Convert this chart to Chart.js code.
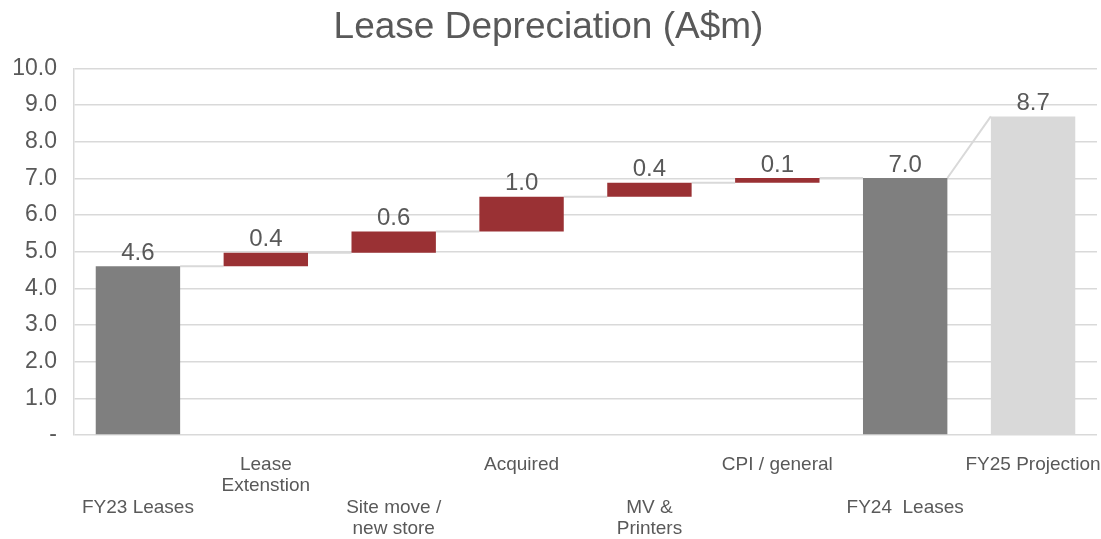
<!DOCTYPE html>
<html lang="en">
<head>
    <meta charset="UTF-8">
    <title>Lease Depreciation</title>
    <style>
        html, body { margin: 0; padding: 0; background: #fff; }
        #wrap { width: 1101px; height: 539px; }
    </style>
</head>
<body>
    <div id="wrap"><canvas id="leaseChart"></canvas></div>

    <script src="https://cdn.jsdelivr.net/npm/chart.js"></script>
<script>
// Categories (staggered: even ones pushed down two lines like the original)
const categories = [
    ['', '', 'FY23 Leases'],
    ['Lease', 'Extenstion'],
    ['', '', 'Site move /', 'new store'],
    ['Acquired'],
    ['', '', 'MV &', 'Printers'],
    ['CPI / general'],
    ['', '', 'FY24  Leases'],
    ['FY25 Projection']
];
// 'total' bars start at zero, 'step' bars float on the running total
const barKind = ['total', 'step', 'step', 'step', 'step', 'step', 'total', 'projection'];
const barValues = [4.60, 0.37, 0.58, 0.95, 0.38, 0.13, 7.01, 8.69];
const valueLabels = ['4.6', '0.4', '0.6', '1.0', '0.4', '0.1', '7.0', '8.7'];
const yTicks = [0, 1, 2, 3, 4, 5, 6, 7, 8, 9, 10];

const kindColors = { total: '#7f7f7f', step: '#9a3134', projection: '#d9d9d9' };
const textColor = '#595959';
const fontFamily = '"Liberation Sans", Arial, sans-serif';

// build floating ranges
let running = 0;
const ranges = barValues.map((v, i) => {
    if (barKind[i] === 'step') {
        const r = [running, running + v];
        running += v;
        return r;
    }
    running = v;
    return [0, v];
});

// connector lines + value labels drawn from the bar elements
const waterfallExtras = {
    id: 'waterfallExtras',
    beforeDatasetsDraw(chart) {
        const ctx = chart.ctx;
        const meta = chart.getDatasetMeta(0);
        const y = chart.scales.y;
        ctx.save();
        ctx.strokeStyle = '#d9d9d9';
        ctx.lineWidth = 2;
        for (let i = 0; i < meta.data.length - 1; i++) {
            const a = meta.data[i], b = meta.data[i + 1];
            const x1 = a.x + a.width / 2;
            const x2 = b.x - b.width / 2;
            const y1 = y.getPixelForValue(ranges[i][1]);
            // last one goes diagonally up to the projection top
            const y2 = barKind[i + 1] === 'projection' ? y.getPixelForValue(ranges[i + 1][1]) : y1;
            ctx.beginPath();
            ctx.moveTo(x1, y1);
            ctx.lineTo(x2, y2);
            ctx.stroke();
        }
        ctx.restore();
    },
    afterDatasetsDraw(chart) {
        const ctx = chart.ctx;
        const meta = chart.getDatasetMeta(0);
        const y = chart.scales.y;
        ctx.save();
        ctx.fillStyle = textColor;
        ctx.font = '24px ' + fontFamily;
        ctx.textAlign = 'center';
        ctx.textBaseline = 'bottom';
        meta.data.forEach((bar, i) => {
            ctx.fillText(valueLabels[i], bar.x, y.getPixelForValue(ranges[i][1]) - 1);
        });
        ctx.restore();
    }
};

const ctx = document.getElementById('leaseChart').getContext('2d');
const leaseChart = new Chart(ctx, {
    type: 'bar',
    data: {
        labels: categories,
        datasets: [{
            data: ranges,
            backgroundColor: barKind.map(k => kindColors[k]),
            borderWidth: 0,
            barPercentage: 0.66,
            categoryPercentage: 1.0
        }]
    },
    options: {
        responsive: true,
        maintainAspectRatio: false,
        animation: false,
        layout: { padding: { left: 0, right: 4, top: 0, bottom: 0 } },
        plugins: {
            legend: { display: false },
            tooltip: { enabled: false },
            title: {
                display: true,
                text: 'Lease Depreciation (A$m)',
                color: textColor,
                font: { family: fontFamily, size: 37, weight: 'normal' },
                padding: { top: 6, bottom: 18 }
            }
        },
        scales: {
            x: {
                grid: { display: false, drawTicks: false },
                border: { display: false },
                // fixed label band; the long last label shouldn't squeeze the plot
                afterFit: axis => { axis.paddingLeft = 0; axis.paddingRight = 0; axis.height = 104; },
                ticks: {
                    color: textColor,
                    font: { family: fontFamily, size: 19, lineHeight: 1.13 },
                    autoSkip: false,
                    maxRotation: 0,
                    minRotation: 0,
                    padding: 19
                }
            },
            y: {
                min: yTicks[0],
                max: yTicks[yTicks.length - 1],
                afterBuildTicks: axis => { axis.ticks = yTicks.map(v => ({ value: v })); },
                afterFit: axis => { axis.width = 74; },
                grid: { color: '#d9d9d9', lineWidth: 1.5, drawTicks: false },
                border: { display: true, color: '#d9d9d9', width: 1.5 },
                ticks: {
                    color: textColor,
                    font: { family: fontFamily, size: 23 },
                    padding: 17,
                    callback: v => v === 0 ? '-' : v.toFixed(1)
                }
            }
        }
    },
    plugins: [waterfallExtras]
});
</script>

</body>
</html>
